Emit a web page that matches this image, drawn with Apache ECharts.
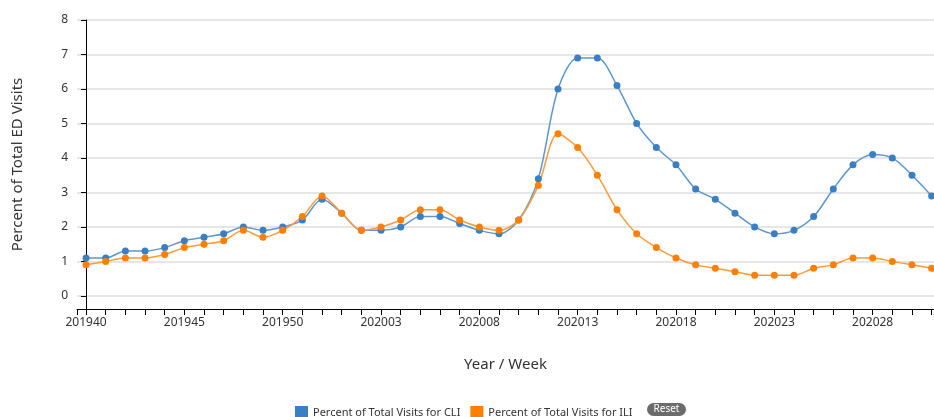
<!DOCTYPE html>
<html>
<head>
<meta charset="utf-8">
<script src="https://cdn.jsdelivr.net/npm/echarts@6/dist/echarts.min.js"></script>
<style>
  html, body { margin: 0; padding: 0; background: #fff; }
  #chart { width: 934px; height: 417px; }
</style>
</head>
<body>
<div id="chart"></div>
<script>
// weeks shown on the x axis (2019 wk40 .. 2020 wk31)
var weeks = [
  "201940", "201941", "201942", "201943", "201944", "201945", "201946", "201947", "201948",
  "201949", "201950", "201951", "201952",
  "202001", "202002", "202003", "202004", "202005", "202006", "202007", "202008", "202009",
  "202010", "202011", "202012", "202013", "202014", "202015", "202016", "202017", "202018",
  "202019", "202020", "202021", "202022", "202023", "202024", "202025", "202026", "202027",
  "202028", "202029", "202030", "202031"
];
var cliValues = [
  1.1, 1.1, 1.3, 1.3, 1.4, 1.6, 1.7, 1.8, 2.0, 1.9, 2.0, 2.2, 2.8,
  2.4, 1.9, 1.9, 2.0, 2.3, 2.3, 2.1, 1.9, 1.8, 2.2, 3.4, 6.0, 6.9, 6.9, 6.1, 5.0, 4.3, 3.8,
  3.1, 2.8, 2.4, 2.0, 1.8, 1.9, 2.3, 3.1, 3.8, 4.1, 4.0, 3.5, 2.9
];
var iliValues = [
  0.9, 1.0, 1.1, 1.1, 1.2, 1.4, 1.5, 1.6, 1.9, 1.7, 1.9, 2.3, 2.9,
  2.4, 1.9, 2.0, 2.2, 2.5, 2.5, 2.2, 2.0, 1.9, 2.2, 3.2, 4.7, 4.3, 3.5, 2.5, 1.8, 1.4, 1.1,
  0.9, 0.8, 0.7, 0.6, 0.6, 0.6, 0.8, 0.9, 1.1, 1.1, 1.0, 0.9, 0.8
];
var yTicks = [0, 1, 2, 3, 4, 5, 6, 7, 8];
var xLabelIdx = [0, 5, 10, 15, 20, 25, 30, 35, 40];

var font = "'Noto Sans', 'Open Sans', sans-serif";

function toPairs(vals) {
  var out = [];
  for (var i = 0; i < vals.length; i++) out.push([i, vals[i]]);
  return out;
}
var tickIdx = [];
for (var i = 0; i < weeks.length; i++) tickIdx.push(i);

var chart = echarts.init(document.getElementById('chart'));
var option = {
  animation: false,
  textStyle: { fontFamily: font },
  grid: { left: 77, right: 0, top: 20, bottom: 108 },
  xAxis: {
    type: 'value',
    min: -0.46,
    max: 43.12,
    name: 'Year / Week',
    nameLocation: 'middle',
    nameGap: 48,
    nameTextStyle: { fontSize: 15, color: '#333', fontFamily: font },
    axisLine: { onZero: false, lineStyle: { color: '#000', width: 1 } },
    axisTick: { customValues: [-0.46].concat(tickIdx), length: 6, lineStyle: { color: '#000' } },
    axisLabel: {
      customValues: xLabelIdx,
      margin: 8,
      fontSize: 12,
      color: '#333',
      formatter: function (v) { return weeks[Math.round(v)]; }
    },
    splitLine: { show: false }
  },
  yAxis: {
    type: 'value',
    min: -0.38,
    max: 8,
    name: 'Percent of Total ED Visits',
    nameLocation: 'middle',
    nameGap: 52,
    nameRotate: 90,
    nameTextStyle: { fontSize: 15, color: '#333', fontFamily: font },
    axisLine: { show: true, lineStyle: { color: '#000', width: 1 } },
    axisTick: { show: true, customValues: yTicks, length: 5, lineStyle: { color: '#000' } },
    axisLabel: { customValues: yTicks, margin: 9, fontSize: 12, color: '#333' },
    splitLine: { show: true, lineStyle: { color: '#e6e6e6', width: 2 } }
  },
  legend: {
    left: 290,
    top: 401,
    icon: 'rect',
    itemWidth: 13,
    itemHeight: 13,
    itemGap: 10,
    textStyle: { fontSize: 11, color: '#333', fontFamily: font },
    data: ['Percent of Total Visits for CLI', 'Percent of Total Visits for ILI']
  },
  graphic: [{
    type: 'group',
    left: 647,
    top: 403,
    children: [
      { type: 'rect', shape: { x: 0, y: 0, width: 39, height: 13, r: 6.5 }, style: { fill: '#6b6b6b' } },
      { type: 'text', x: 19.5, y: 6.5, style: { text: 'Reset', fill: '#fff', fontSize: 10, fontFamily: font, align: 'center', verticalAlign: 'middle' } }
    ]
  }],
  series: [
    {
      name: 'Percent of Total Visits for CLI',
      type: 'line',
      data: toPairs(cliValues),
      smooth: 0.3,
      symbol: 'circle',
      symbolSize: 7,
      itemStyle: { color: '#3a7fc1' },
      lineStyle: { color: '#5b96cd', width: 1.5 }
    },
    {
      name: 'Percent of Total Visits for ILI',
      type: 'line',
      data: toPairs(iliValues),
      smooth: 0.3,
      symbol: 'circle',
      symbolSize: 7,
      itemStyle: { color: '#ff7f00' },
      lineStyle: { color: '#ff9a3a', width: 1.5 }
    }
  ]
};
chart.setOption(option);
</script>
</body>
</html>
